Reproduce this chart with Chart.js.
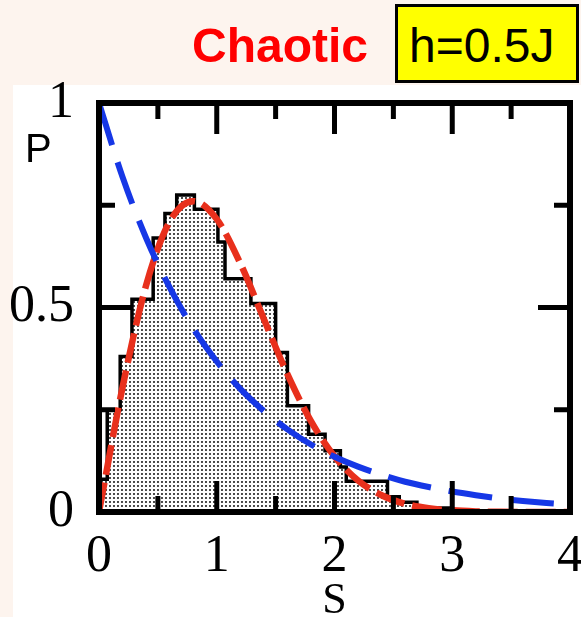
<!DOCTYPE html>
<html>
<head>
<meta charset="utf-8">
<script src="https://cdn.jsdelivr.net/npm/chart.js@4.4.0/dist/chart.umd.min.js"></script>
<style>
  html, body { margin: 0; padding: 0; }
  body { width: 581px; height: 617px; background: #fdf4ee; position: relative; overflow: hidden; }
  #paper { position: absolute; left: 13px; top: 85px; width: 568px; height: 532px; background: #fff; }
  #chartBox { position: absolute; left: 0; top: 0; width: 581px; height: 617px; }
  .label { position: absolute; font-family: "Liberation Sans", Arial, sans-serif; white-space: nowrap; }
  #regime { left: 192px; top: 22px; font-size: 48px; line-height: 48px; font-weight: bold; color: #ff0000; }
  #field { left: 395px; top: 4px; width: 184px; height: 79px; box-sizing: border-box; border: 3px solid #000;
           background: #ffff00; color: #000; font-size: 48px; line-height: 48px; padding: 15px 0 0 11px; }
  #pLabel { left: 25px; top: 128px; font-size: 40px; line-height: 40px; color: #000; }
</style>
</head>
<body>
<div id="paper"></div>
<div id="chartBox"><canvas id="spacingChart"></canvas></div>
<div class="label" id="regime">Chaotic</div>
<div class="label" id="field">h=0.5J</div>
<div class="label" id="pLabel">P</div>
<script>
// level-spacing histogram: bin edges in s, heights in P
const binEdges = [0, 0.07, 0.18, 0.28, 0.46, 0.56, 0.66, 0.81, 1.01, 1.07, 1.29, 1.50, 1.60, 1.78, 1.92, 2.05, 2.10, 2.45, 2.55, 2.70, 3.00];
const binHeights = [0.08, 0.25, 0.38, 0.52, 0.67, 0.73, 0.775, 0.74, 0.66, 0.57, 0.51, 0.39, 0.26, 0.19, 0.15, 0.11, 0.075, 0.037, 0.024, 0.01];

// reference curves sampled along s
const sGrid = [0, 0.2, 0.4, 0.6, 0.8, 1.0, 1.2, 1.4, 1.6, 1.8, 2.0, 2.2, 2.4, 2.6, 2.8, 3.0, 3.2, 3.4, 3.6, 3.8, 4.0];
const poissonP = [1.0, 0.819, 0.670, 0.549, 0.449, 0.368, 0.301, 0.247, 0.202, 0.165, 0.135, 0.111, 0.091, 0.074, 0.061, 0.050, 0.041, 0.033, 0.027, 0.022, 0.018];
const wignerP = [0, 0.305, 0.554, 0.710, 0.760, 0.716, 0.608, 0.472, 0.337, 0.222, 0.136, 0.077, 0.041, 0.020, 0.009, 0.004, 0.0015, 0.0005, 0.0002, 0.0001, 0];

// axis ticks (drawn inward on all four sides)
const xMajor = [1, 2, 3];
const xMinor = [0.5, 1.5, 2.5, 3.5];
const yMajor = [0.5];
const yMinor = [0.25, 0.75];

const serif = '"Liberation Serif", "Times New Roman", serif';

function stipple(ctx) {
  const tile = document.createElement("canvas");
  tile.width = 4;
  tile.height = 4;
  const g = tile.getContext("2d");
  g.fillStyle = "#fff";
  g.fillRect(0, 0, 4, 4);
  g.fillStyle = "#1e1e1e";
  g.beginPath();
  g.arc(2, 2, 1.05, 0, Math.PI * 2);
  g.fill();
  return ctx.createPattern(tile, "repeat");
}

const frameTicks = {
  id: "frameTicks",
  afterDatasetsDraw(chart) {
    const { ctx, chartArea: a, scales: { x, y } } = chart;
    ctx.save();
    ctx.strokeStyle = "#000";
    ctx.lineWidth = 5;
    const tick = (px, py, dx, dy) => {
      ctx.beginPath();
      ctx.moveTo(px, py);
      ctx.lineTo(px + dx, py + dy);
      ctx.stroke();
    };
    xMajor.forEach(v => { const p = x.getPixelForValue(v); tick(p, a.bottom, 0, -31); tick(p, a.top, 0, 31); });
    xMinor.forEach(v => { const p = x.getPixelForValue(v); tick(p, a.bottom, 0, -16); tick(p, a.top, 0, 16); });
    yMajor.forEach(v => { const p = y.getPixelForValue(v); tick(a.left, p, 32, 0); tick(a.right, p, -32, 0); });
    yMinor.forEach(v => { const p = y.getPixelForValue(v); tick(a.left, p, 16, 0); tick(a.right, p, -16, 0); });
    ctx.lineWidth = 6;
    ctx.strokeRect(a.left, a.top, a.right - a.left, a.bottom - a.top);
    ctx.restore();
  }
};

const histPoints = [{ x: binEdges[0], y: 0 }];
binHeights.forEach((h, i) => histPoints.push({ x: binEdges[i], y: h }));
histPoints.push({ x: binEdges[binEdges.length - 1], y: 0 });

const ctx = document.getElementById("spacingChart").getContext("2d");
new Chart(ctx, {
  type: "line",
  data: {
    datasets: [
      {
        label: "Poisson",
        data: sGrid.map((s, i) => ({ x: s, y: poissonP[i] })),
        borderColor: "#1637e6",
        borderWidth: 6,
        borderDash: [44, 18],
        pointRadius: 0,
        cubicInterpolationMode: "monotone",
        fill: false
      },
      {
        label: "Wigner-Dyson",
        data: sGrid.map((s, i) => ({ x: s, y: wignerP[i] })),
        borderColor: "#e8301c",
        borderWidth: 6.5,
        borderDash: [30, 8],
        pointRadius: 0,
        cubicInterpolationMode: "monotone",
        fill: false
      },
      {
        label: "histogram",
        data: histPoints,
        stepped: "before",
        borderColor: "#000",
        borderWidth: 3.5,
        backgroundColor: stipple(ctx),
        fill: "origin",
        pointRadius: 0
      }
    ]
  },
  options: {
    responsive: true,
    maintainAspectRatio: false,
    animation: false,
    layout: { padding: { left: 0, right: 11, top: 103, bottom: 0 } },
    plugins: { legend: { display: false }, tooltip: { enabled: false } },
    scales: {
      x: {
        type: "linear",
        min: 0,
        max: 4,
        grid: { display: false },
        border: { display: false },
        ticks: {
          stepSize: 1,
          autoSkip: false,
          maxRotation: 0,
          padding: 6,
          color: "#000",
          font: { family: serif, size: 52, lineHeight: 1.2 },
          callback: v => String(v)
        },
        title: {
          display: true,
          text: "S",
          color: "#000",
          font: { family: serif, size: 44, lineHeight: 1 },
          padding: { top: 0, bottom: -6 }
        },
        afterFit: s => { s.height = 105; s.paddingLeft = 0; s.paddingRight = 0; }
      },
      y: {
        min: 0,
        max: 1,
        grid: { display: false },
        border: { display: false },
        ticks: {
          stepSize: 0.5,
          autoSkip: false,
          padding: 17,
          color: "#000",
          font: { family: serif, size: 52, lineHeight: 1.2 },
          callback: v => String(v)
        },
        afterFit: s => { s.width = 99; }
      }
    }
  },
  plugins: [frameTicks]
});
</script>
</body>
</html>
